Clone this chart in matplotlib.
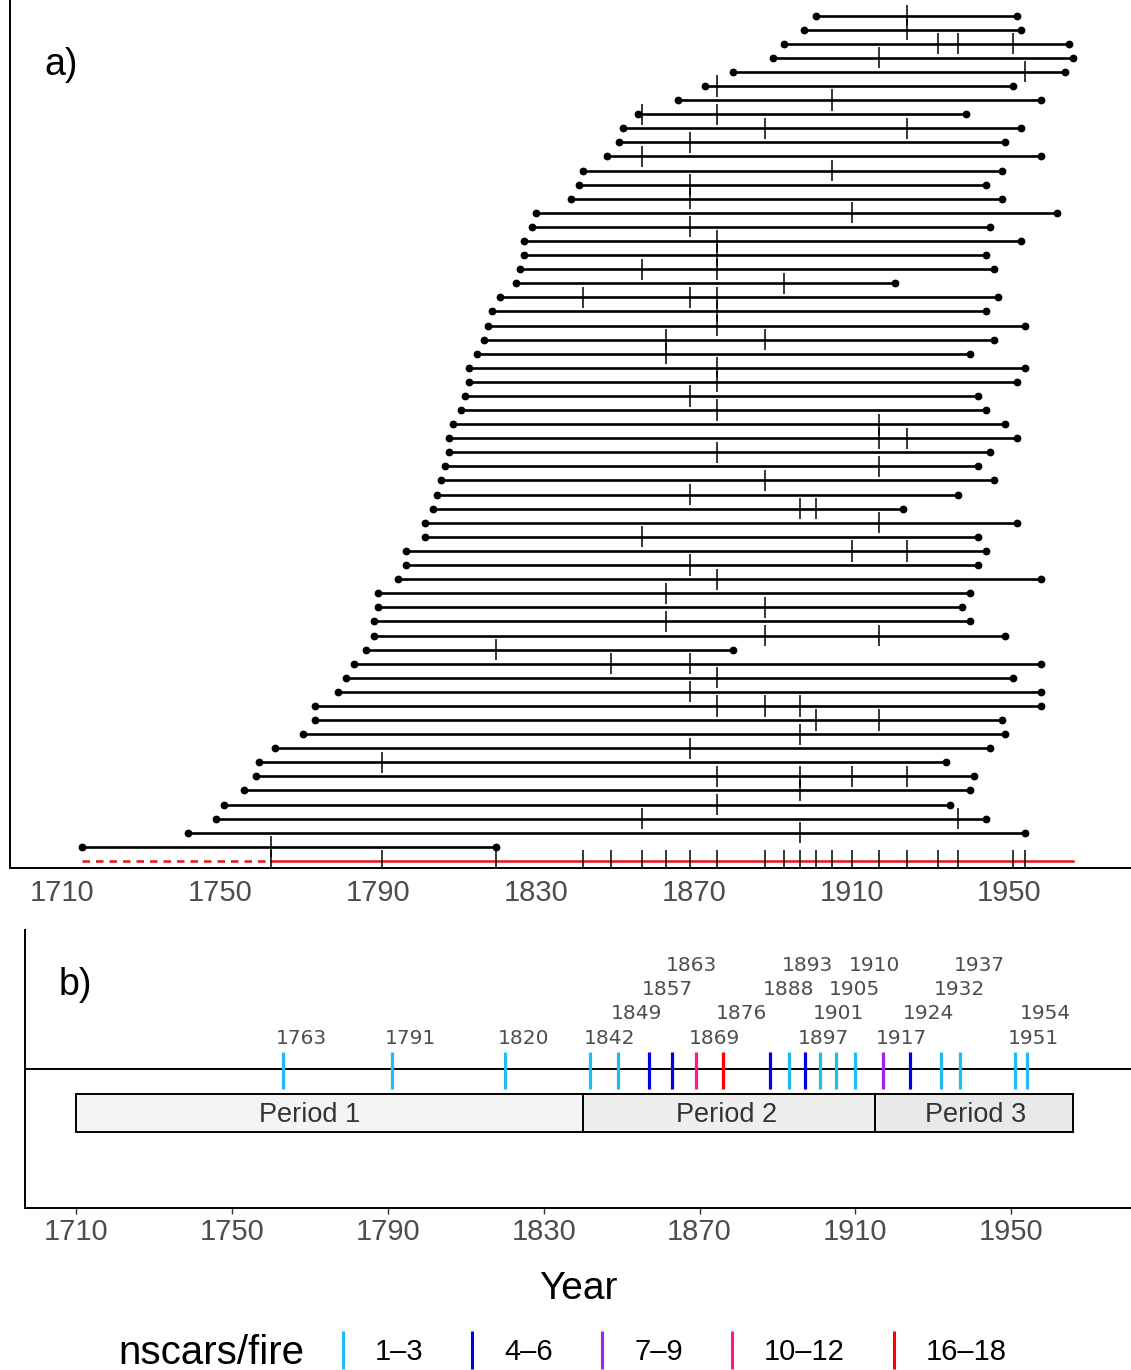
import matplotlib.pyplot as plt
from matplotlib.lines import Line2D
from matplotlib.patches import Rectangle

plt.rcParams['font.family'] = ['Liberation Sans', 'DejaVu Sans']

# tree records, top row of panel a first
first_year = [1901, 1898, 1893, 1890, 1880, 1873, 1866, 1856, 1852, 1851,
              1848, 1842, 1841, 1839, 1830, 1829, 1827, 1827, 1826, 1825,
              1821, 1819, 1818, 1817, 1815, 1813, 1813, 1812, 1811, 1809,
              1808, 1808, 1807, 1806, 1805, 1804, 1802, 1802, 1797, 1797,
              1795, 1790, 1790, 1789, 1789, 1787, 1784, 1782, 1780, 1774,
              1774, 1771, 1764, 1760, 1759, 1756, 1751, 1749, 1742, 1715]
last_year = [1952, 1953, 1965, 1966, 1964, 1951, 1958, 1939, 1953, 1949,
             1958, 1948, 1944, 1948, 1962, 1945, 1953, 1944, 1946, 1921,
             1947, 1944, 1954, 1946, 1940, 1954, 1952, 1942, 1944, 1949,
             1952, 1945, 1942, 1946, 1937, 1923, 1952, 1942, 1944, 1942,
             1958, 1940, 1938, 1940, 1949, 1880, 1958, 1951, 1958, 1958,
             1948, 1949, 1945, 1934, 1941, 1940, 1935, 1944, 1954, 1820]
scar_years = [[1924], [1924], [1932, 1937, 1951], [1917], [1954], [1876],
              [1905], [1857, 1876], [1888, 1924], [1869], [1857], [1905],
              [1869], [1869], [1910], [1869], [1876], [1876], [1857, 1876],
              [1893], [1842, 1869, 1876], [1876], [1876], [1863, 1888],
              [1863], [1876], [1876], [1869], [1876], [1917], [1917, 1924],
              [1876], [1917], [1888], [1869], [1897, 1901], [1917], [1857],
              [1910, 1924], [1869], [1876], [1863], [1888], [1863],
              [1888, 1917], [1820], [1849, 1869], [1876], [1869],
              [1876, 1888, 1897], [1901, 1917], [1897], [1869], [1791],
              [1876, 1897, 1910, 1924], [1897], [1876], [1857, 1937], [1897],
              [1763]]

period_edges = [1710, 1840, 1915, 1966]
period_names = ["Period 1", "Period 2", "Period 3"]
period_label_year = [1770, 1877, 1941]
period_fill = ["#f4f4f4", "#eeeeee", "#e9e9e9"]

class_labels = ["1–3", "4–6", "7–9", "10–12", "16–18"]
class_upper = [3, 6, 9, 12, 18]
class_colors = ["#1dbcf2", "#0000e8", "#a020f0", "#ff1493", "#ff0000"]

year_ticks = [1710, 1750, 1790, 1830, 1870, 1910, 1950]
xlim = (1696.8, 1980.8)

# composite fire record
fire_years = sorted(set(y for s in scar_years for y in s))
n_scars = [sum(s.count(y) for s in scar_years) for y in fire_years]
fire_colors = []
for c in n_scars:
    for up, col in zip(class_upper, class_colors):
        if c <= up:
            fire_colors.append(col)
            break

W, H = 1131, 1370
fig = plt.figure(figsize=(W / 100, H / 100), dpi=100)

# ---- panel a: fire history chart
ax_a = fig.add_axes([10 / W, 1 - 868 / H, 1 - 10 / W, 868 / H])
n = len(first_year)
for i in range(n):
    y = n - i
    ax_a.plot([first_year[i], last_year[i]], [y, y], color='black', lw=1.9,
              solid_capstyle='butt', zorder=2)
    ax_a.plot([first_year[i], last_year[i]], [y, y], 'o', color='black',
              ms=4.6, zorder=3)
    ax_a.vlines(scar_years[i], y - 0.75, y + 0.75, color='black', lw=1.1,
                zorder=4)

ax_a.plot([min(first_year), fire_years[0]], [0, 0], color='#e8141b', lw=1.8,
          linestyle=(0, (3, 2.4)))
ax_a.plot([fire_years[0], max(last_year)], [0, 0], color='#e8141b', lw=1.8)
ax_a.vlines(fire_years, -0.75, 0.75, color='black', lw=1.1, zorder=4)

ax_a.set_xlim(*xlim)
ax_a.set_ylim(-0.5, n + 1.1)
ax_a.set_yticks([])
ax_a.set_xticks(year_ticks)
ax_a.tick_params(axis='x', length=0, pad=8, labelsize=21, labelcolor='#4d4d4d')
for side in ['top', 'right']:
    ax_a.spines[side].set_visible(False)
for side in ['left', 'bottom']:
    ax_a.spines[side].set_linewidth(1.4)
ax_a.text(0.031, 0.925, "a)", transform=ax_a.transAxes, fontsize=27,
          ha='left', va='center')

# ---- panel b: composite with periods
ax_b = fig.add_axes([25 / W, 1 - 1208 / H, 1 - 25 / W, 278 / H])
ax_b.axhline(0.5, color='black', lw=1.4)
ax_b.vlines(fire_years, 0.427, 0.562, colors=fire_colors, lw=2.3)

levels = []
for k, yr in enumerate(fire_years):
    if k == 0 or yr - fire_years[k - 1] >= 20:
        levels.append(0)
    else:
        levels.append((levels[-1] + 1) % 4)
for yr, lv in zip(fire_years, levels):
    ax_b.annotate(str(yr), (yr, 0.611 + lv * 0.0877), xytext=(13.5, 0),
                  textcoords='offset points', ha='center', va='center',
                  fontsize=14.5, color='#4d4d4d', family='DejaVu Sans')

for k, name in enumerate(period_names):
    x0, x1 = period_edges[k], period_edges[k + 1]
    ax_b.add_patch(Rectangle((x0, 0.273), x1 - x0, 0.137,
                             facecolor=period_fill[k], edgecolor='black', lw=1.4))
    ax_b.text(period_label_year[k], 0.336, name, ha='center', va='center',
              fontsize=19.5, color='#333333')

ax_b.set_xlim(*xlim)
ax_b.set_ylim(0, 1)
ax_b.set_yticks([])
ax_b.set_xticks(year_ticks)
ax_b.tick_params(axis='x', length=4, width=1, color='#333333', pad=3,
                 labelsize=21, labelcolor='#4d4d4d')
for side in ['top', 'right']:
    ax_b.spines[side].set_visible(False)
for side in ['left', 'bottom']:
    ax_b.spines[side].set_linewidth(1.4)
ax_b.set_xlabel("Year", fontsize=28, labelpad=18)
ax_b.text(0.030, 0.802, "b)", transform=ax_b.transAxes, fontsize=27,
          ha='left', va='center')

# ---- legend
fig.text(118 / W, 1 - 1353 / H, "nscars/fire", fontsize=29, ha='left',
         va='center')
handles = [Line2D([], [], marker='|', linestyle='None', color=c, ms=28, mew=2.2)
           for c in class_colors]
fig.legend(handles, class_labels, loc='center left',
           bbox_to_anchor=(328 / W, 1 - 1352 / H), ncol=len(class_labels),
           frameon=False, fontsize=21, handlelength=1.0, handletextpad=0.6,
           columnspacing=1.18, borderpad=0, borderaxespad=0)

fig.savefig("out.png", dpi=100)
